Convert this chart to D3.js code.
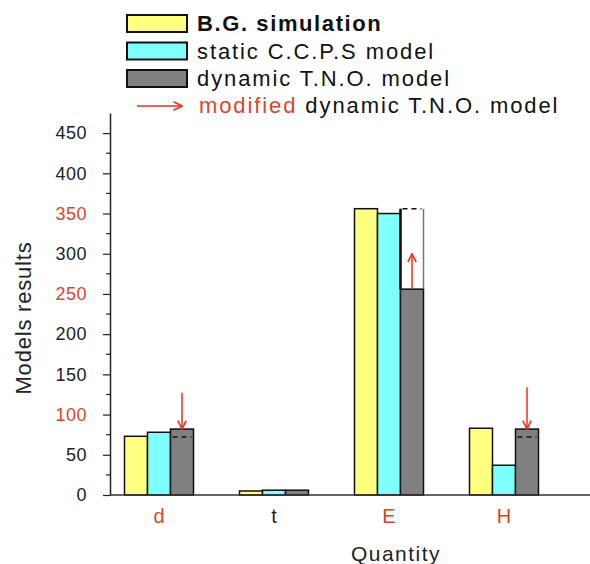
<!DOCTYPE html>
<html>
<head>
<meta charset="utf-8">
<script src="https://cdn.jsdelivr.net/npm/d3@7"></script>
<style>
  body { margin: 0; background: #fff; }
  text { font-family: "Liberation Sans", Arial, sans-serif; }
</style>
</head>
<body>
<div id="chart"></div>
<script>
const categories = ['d', 't', 'E', 'H'];
const categoryColors = ['#d24a2c', '#222', '#e0401e', '#e0401e'];
const bgSimulation = [73, 5, 356, 83];
const staticCCPS = [78, 6, 350, 37];
const dynamicTNO = [82, 6, 256, 82];
const modifiedTNO = [72, null, 356, 72];
const arrowFrom = [127, null, 256, 134];
const arrowTo = [82, null, 300, 82];
const yTicks = [0, 50, 100, 150, 200, 250, 300, 350, 400, 450];
const redTicks = [100, 250, 350];

const series = [
  { name: 'B.G. simulation', values: bgSimulation, color: '#ffff80' },
  { name: 'static C.C.P.S model', values: staticCCPS, color: '#80ffff' },
  { name: 'dynamic T.N.O. model', values: dynamicTNO, color: '#808080' }
];

const width = 590, height = 564;
const red = '#e8321e';

const svg = d3.select('#chart').append('svg')
  .attr('width', width)
  .attr('height', height);

svg.append('defs').append('marker')
  .attr('id', 'arrow')
  .attr('viewBox', '0 0 10 10')
  .attr('refX', 9).attr('refY', 5)
  .attr('markerWidth', 7).attr('markerHeight', 7)
  .attr('orient', 'auto')
  .append('path')
  .attr('d', 'M1,1 L9,5 L1,9')
  .attr('fill', 'none')
  .attr('stroke', red)
  .attr('stroke-width', 1.5);

const y = d3.scaleLinear().domain([0, 475]).range([495, 113]);
const x = d3.scaleBand().domain(categories).range([101.5, 561.5])
  .paddingInner(0.4).paddingOuter(0.2);
const xs = d3.scaleBand().domain(d3.range(series.length)).range([0, x.bandwidth()]);

// minor ticks
svg.append('g').selectAll('line')
  .data(d3.range(25, 475, 50))
  .enter().append('line')
  .attr('x1', 106).attr('x2', 110)
  .attr('y1', d => y(d)).attr('y2', d => y(d))
  .attr('stroke', '#222').attr('stroke-width', 1.2);

const yAxis = svg.append('g')
  .attr('transform', 'translate(110,0)')
  .call(d3.axisLeft(y).tickValues(yTicks).tickSize(7).tickPadding(16).tickSizeOuter(0));
yAxis.select('.domain').attr('stroke', '#222').attr('stroke-width', 1.5);
yAxis.selectAll('.tick line').attr('stroke', '#222').attr('stroke-width', 1.2);
yAxis.selectAll('.tick text')
  .attr('font-size', 18)
  .attr('letter-spacing', 0.5)
  .attr('fill', d => redTicks.includes(d) ? '#d8472b' : '#222');

// bars
series.forEach((s, si) => {
  svg.append('g').selectAll('rect')
    .data(s.values)
    .enter().append('rect')
    .attr('x', (d, i) => x(categories[i]) + xs(si))
    .attr('y', d => y(d))
    .attr('width', xs.bandwidth())
    .attr('height', d => y(0) - y(d))
    .attr('fill', s.color)
    .attr('stroke', '#111')
    .attr('stroke-width', 1.5);
});

// modified T.N.O. values
categories.forEach((c, i) => {
  const m = modifiedTNO[i];
  if (m == null) return;
  const x0 = x(c) + xs(2), x1 = x0 + xs.bandwidth();
  if (m > dynamicTNO[i]) {
    svg.append('rect')
      .attr('x', x0).attr('y', y(m))
      .attr('width', xs.bandwidth())
      .attr('height', y(dynamicTNO[i]) - y(m))
      .attr('fill', '#fff');
    svg.append('line')
      .attr('x1', x0).attr('x2', x0)
      .attr('y1', y(m)).attr('y2', y(dynamicTNO[i]))
      .attr('stroke', '#000').attr('stroke-width', 2.5);
    svg.append('line')
      .attr('x1', x1).attr('x2', x1)
      .attr('y1', y(m)).attr('y2', y(dynamicTNO[i]))
      .attr('stroke', '#777').attr('stroke-width', 1.5);
    svg.append('line')
      .attr('x1', x0).attr('x2', x1)
      .attr('y1', y(dynamicTNO[i])).attr('y2', y(dynamicTNO[i]))
      .attr('stroke', '#111').attr('stroke-width', 1.5);
  }
  svg.append('line')
    .attr('x1', x0 + 2).attr('x2', x1 - 2)
    .attr('y1', y(m)).attr('y2', y(m))
    .attr('stroke', '#111').attr('stroke-width', 1.5)
    .attr('stroke-dasharray', '5,4');
});

// arrows
categories.forEach((c, i) => {
  if (arrowFrom[i] == null) return;
  const cx = x(c) + xs(2) + xs.bandwidth() / 2;
  svg.append('line')
    .attr('x1', cx).attr('x2', cx)
    .attr('y1', y(arrowFrom[i])).attr('y2', y(arrowTo[i]))
    .attr('stroke', red).attr('stroke-width', 1.5)
    .attr('marker-end', 'url(#arrow)');
});

// x axis
svg.append('line')
  .attr('x1', 110).attr('x2', 590)
  .attr('y1', y(0)).attr('y2', y(0))
  .attr('stroke', '#333').attr('stroke-width', 1.5);

svg.append('g').selectAll('text')
  .data(categories)
  .enter().append('text')
  .attr('x', d => x(d) + x.bandwidth() / 2)
  .attr('y', 523)
  .attr('text-anchor', 'middle')
  .attr('font-size', 20)
  .attr('fill', (d, i) => categoryColors[i])
  .text(d => d);

svg.append('text')
  .attr('x', 396).attr('y', 561)
  .attr('text-anchor', 'middle')
  .attr('font-size', 21)
  .attr('letter-spacing', 1.5)
  .attr('fill', '#222')
  .text('Quantity');

svg.append('text')
  .attr('transform', 'translate(31,318) rotate(-90)')
  .attr('text-anchor', 'middle')
  .attr('font-size', 22)
  .attr('letter-spacing', 0.8)
  .attr('fill', '#222')
  .text('Models results');

// legend
const legend = svg.append('g');
series.forEach((s, i) => {
  legend.append('rect')
    .attr('x', 127).attr('y', 15 + i * 27.5)
    .attr('width', 60).attr('height', 17)
    .attr('fill', s.color)
    .attr('stroke', '#111')
    .attr('stroke-width', 2);
  legend.append('text')
    .attr('x', 197).attr('y', 31 + i * 27.5)
    .attr('font-size', 22)
    .attr('font-weight', i === 0 ? 'bold' : 'normal')
    .attr('letter-spacing', i === 0 ? 1.6 : 1.9)
    .attr('fill', '#111')
    .text(s.name);
});
legend.append('line')
  .attr('x1', 137).attr('x2', 182)
  .attr('y1', 106).attr('y2', 106)
  .attr('stroke', red).attr('stroke-width', 1.5)
  .attr('marker-end', 'url(#arrow)');
const lt = legend.append('text')
  .attr('x', 199).attr('y', 113)
  .attr('font-size', 22)
  .attr('letter-spacing', 1.9);
lt.append('tspan').attr('fill', '#d8472b').text('modified');
lt.append('tspan').attr('fill', '#111').text(' dynamic  T.N.O. model');
</script>
</body>
</html>
